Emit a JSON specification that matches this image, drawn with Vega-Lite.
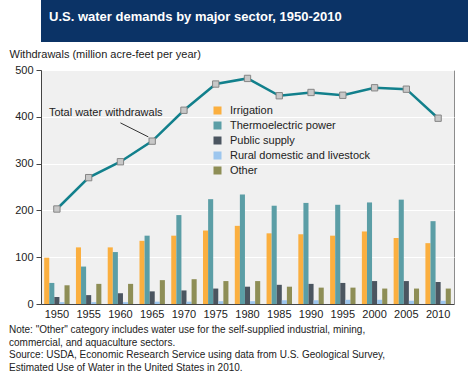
{
  "$schema": "https://vega.github.io/schema/vega-lite/v6.json",
  "padding": 0,
  "spacing": 5,
  "background": "white",
  "config": {
    "font": "Liberation Sans",
    "view": {"stroke": null}
  },
  "datasets": {
    "bars": [
      {"year": 1950, "sector": "Irrigation", "value": 99},
      {"year": 1955, "sector": "Irrigation", "value": 121},
      {"year": 1960, "sector": "Irrigation", "value": 121},
      {"year": 1965, "sector": "Irrigation", "value": 135},
      {"year": 1970, "sector": "Irrigation", "value": 146},
      {"year": 1975, "sector": "Irrigation", "value": 157},
      {"year": 1980, "sector": "Irrigation", "value": 167},
      {"year": 1985, "sector": "Irrigation", "value": 151},
      {"year": 1990, "sector": "Irrigation", "value": 149},
      {"year": 1995, "sector": "Irrigation", "value": 146},
      {"year": 2000, "sector": "Irrigation", "value": 155},
      {"year": 2005, "sector": "Irrigation", "value": 141},
      {"year": 2010, "sector": "Irrigation", "value": 130},
      {"year": 1950, "sector": "Thermoelectric power", "value": 45},
      {"year": 1955, "sector": "Thermoelectric power", "value": 80},
      {"year": 1960, "sector": "Thermoelectric power", "value": 111},
      {"year": 1965, "sector": "Thermoelectric power", "value": 146},
      {"year": 1970, "sector": "Thermoelectric power", "value": 190},
      {"year": 1975, "sector": "Thermoelectric power", "value": 224},
      {"year": 1980, "sector": "Thermoelectric power", "value": 234},
      {"year": 1985, "sector": "Thermoelectric power", "value": 210},
      {"year": 1990, "sector": "Thermoelectric power", "value": 216},
      {"year": 1995, "sector": "Thermoelectric power", "value": 212},
      {"year": 2000, "sector": "Thermoelectric power", "value": 217},
      {"year": 2005, "sector": "Thermoelectric power", "value": 223},
      {"year": 2010, "sector": "Thermoelectric power", "value": 177},
      {"year": 1950, "sector": "Public supply", "value": 15},
      {"year": 1955, "sector": "Public supply", "value": 19},
      {"year": 1960, "sector": "Public supply", "value": 23},
      {"year": 1965, "sector": "Public supply", "value": 27},
      {"year": 1970, "sector": "Public supply", "value": 29},
      {"year": 1975, "sector": "Public supply", "value": 33},
      {"year": 1980, "sector": "Public supply", "value": 37},
      {"year": 1985, "sector": "Public supply", "value": 41},
      {"year": 1990, "sector": "Public supply", "value": 43},
      {"year": 1995, "sector": "Public supply", "value": 45},
      {"year": 2000, "sector": "Public supply", "value": 49},
      {"year": 2005, "sector": "Public supply", "value": 49},
      {"year": 2010, "sector": "Public supply", "value": 47},
      {"year": 1950, "sector": "Rural domestic and livestock", "value": 4},
      {"year": 1955, "sector": "Rural domestic and livestock", "value": 4},
      {"year": 1960, "sector": "Rural domestic and livestock", "value": 4},
      {"year": 1965, "sector": "Rural domestic and livestock", "value": 5},
      {"year": 1970, "sector": "Rural domestic and livestock", "value": 5},
      {"year": 1975, "sector": "Rural domestic and livestock", "value": 6},
      {"year": 1980, "sector": "Rural domestic and livestock", "value": 6},
      {"year": 1985, "sector": "Rural domestic and livestock", "value": 8},
      {"year": 1990, "sector": "Rural domestic and livestock", "value": 8},
      {"year": 1995, "sector": "Rural domestic and livestock", "value": 9},
      {"year": 2000, "sector": "Rural domestic and livestock", "value": 9},
      {"year": 2005, "sector": "Rural domestic and livestock", "value": 7},
      {"year": 2010, "sector": "Rural domestic and livestock", "value": 7},
      {"year": 1950, "sector": "Other", "value": 40},
      {"year": 1955, "sector": "Other", "value": 43},
      {"year": 1960, "sector": "Other", "value": 43},
      {"year": 1965, "sector": "Other", "value": 51},
      {"year": 1970, "sector": "Other", "value": 53},
      {"year": 1975, "sector": "Other", "value": 49},
      {"year": 1980, "sector": "Other", "value": 49},
      {"year": 1985, "sector": "Other", "value": 37},
      {"year": 1990, "sector": "Other", "value": 35},
      {"year": 1995, "sector": "Other", "value": 35},
      {"year": 2000, "sector": "Other", "value": 33},
      {"year": 2005, "sector": "Other", "value": 33},
      {"year": 2010, "sector": "Other", "value": 33}
    ],
    "total": [
      {"year": 1950, "value": 203},
      {"year": 1955, "value": 270},
      {"year": 1960, "value": 304},
      {"year": 1965, "value": 348},
      {"year": 1970, "value": 414},
      {"year": 1975, "value": 470},
      {"year": 1980, "value": 482},
      {"year": 1985, "value": 445},
      {"year": 1990, "value": 452},
      {"year": 1995, "value": 446},
      {"year": 2000, "value": 462},
      {"year": 2005, "value": 459},
      {"year": 2010, "value": 397}
    ],
    "note": [
      {"year": 1950, "value": 408, "label": "Total water withdrawals"}
    ],
    "leader": [
      {"year": 1960, "year2": 1965, "value": 387, "value2": 357}
    ]
  },
  "vconcat": [
    {
      "width": 468,
      "height": 42,
      "data": {"values": [{"a": 1}]},
      "title": {
        "text": "U.S. water demands by major sector, 1950-2010",
        "anchor": "start",
        "orient": "top",
        "offset": -24,
        "dx": 8,
        "color": "white",
        "fontSize": 13,
        "fontWeight": "bold"
      },
      "mark": {"type": "rect", "color": "#0B3366"},
      "encoding": {}
    },
    {
      "width": 413,
      "height": 234,
      "view": {"fill": "#F0F0F0", "stroke": "#8C8C8C", "strokeWidth": 1},
      "title": {
        "text": [
          "Note: \"Other\" category includes water use for the self-supplied industrial, mining,",
          "commercial, and aquaculture sectors.",
          "Source: USDA, Economic Research Service using data from U.S. Geological Survey,",
          "Estimated Use of Water in the United States in 2010."
        ],
        "orient": "bottom",
        "anchor": "start",
        "frame": "bounds",
        "dx": 8,
        "fontSize": 10,
        "fontWeight": "normal",
        "lineHeight": 12.7,
        "offset": 6,
        "color": "#222222"
      },
      "layer": [
        {
          "data": {"name": "bars"},
          "mark": {"type": "bar"},
          "encoding": {
            "x": {
              "field": "year", "type": "ordinal",
              "scale": {"paddingInner": 0.2, "paddingOuter": 0.1},
              "axis": {
                "title": null, "labelAngle": 0, "ticks": false,
                "domainColor": "#444444", "labelFontSize": 11, "labelColor": "#222222",
                "labelPadding": 4, "grid": false
              }
            },
            "xOffset": {
              "field": "sector", "type": "nominal",
              "scale": {"domain": ["Irrigation", "Thermoelectric power", "Public supply", "Rural domestic and livestock", "Other"], "paddingInner": 0, "paddingOuter": 0}
            },
            "y": {
              "field": "value", "type": "quantitative",
              "scale": {"domain": [0, 500], "nice": false},
              "axis": {
                "values": [0, 100, 200, 300, 400, 500],
                "title": "Withdrawals (million acre-feet per year)",
                "titleAngle": 0, "titleAlign": "left", "titleBaseline": "alphabetic",
                "titleX": -32, "titleY": -13, "titleFontSize": 11, "titleFontWeight": "normal",
                "titleColor": "#222222",
                "gridColor": "white", "gridWidth": 1.2,
                "domainColor": "#444444", "tickColor": "#444444", "tickSize": 5,
                "labelFontSize": 11, "labelColor": "#222222", "labelPadding": 3,
                "minExtent": 40
              }
            },
            "color": {
              "field": "sector", "type": "nominal",
              "scale": {
                "domain": ["Irrigation", "Thermoelectric power", "Public supply", "Rural domestic and livestock", "Other"],
                "range": ["#FBAF3F", "#5B9EA6", "#4B5560", "#9DC6EE", "#8E8E56"]
              },
              "legend": {
                "title": null, "orient": "none", "legendX": 171, "legendY": 105,
                "symbolType": "square", "symbolSize": 64, "symbolStrokeWidth": 0,
                "labelFontSize": 11, "labelColor": "#222222", "labelOffset": 7,
                "rowPadding": 3
              }
            }
          }
        },
        {
          "data": {"name": "total"},
          "mark": {"type": "line", "color": "#12808C", "strokeWidth": 2.5},
          "encoding": {
            "x": {"field": "year", "type": "ordinal"},
            "y": {"field": "value", "type": "quantitative"}
          }
        },
        {
          "data": {"name": "total"},
          "mark": {"type": "point", "shape": "square", "filled": true, "fill": "#C8C8C8", "stroke": "#858585", "strokeWidth": 1, "size": 40, "opacity": 1},
          "encoding": {
            "x": {"field": "year", "type": "ordinal"},
            "y": {"field": "value", "type": "quantitative"}
          }
        },
        {
          "data": {"name": "leader"},
          "mark": {"type": "rule", "color": "#333333", "strokeWidth": 1},
          "encoding": {
            "x": {"field": "year", "type": "ordinal", "bandPosition": 0.5},
            "x2": {"field": "year2", "bandPosition": 0.35},
            "y": {"field": "value", "type": "quantitative"},
            "y2": {"field": "value2"}
          }
        },
        {
          "data": {"name": "note"},
          "mark": {"type": "text", "align": "left", "baseline": "middle", "dx": -8, "fontSize": 11, "color": "#222222"},
          "encoding": {
            "x": {"field": "year", "type": "ordinal", "bandPosition": 0.5},
            "y": {"field": "value", "type": "quantitative"},
            "text": {"field": "label"}
          }
        }
      ]
    }
  ]
}
